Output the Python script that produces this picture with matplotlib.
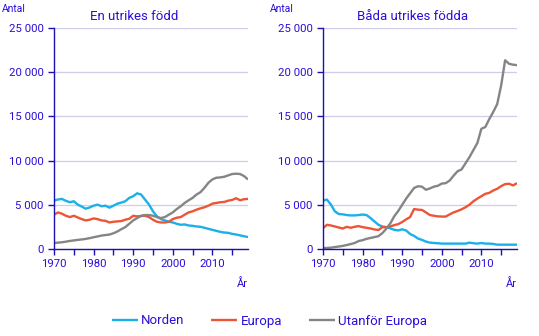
import numpy as np
import matplotlib
matplotlib.use("Agg")
import matplotlib.pyplot as plt
from matplotlib.ticker import FuncFormatter, MultipleLocator

plt.rcParams['font.family'] = ['Roboto', 'DejaVu Sans']

years = list(range(1970, 2020))

# En utrikes född
en_norden = [5475, 5600, 5670, 5450, 5290, 5400, 5020, 4800, 4560, 4700,
             4900, 5020, 4830, 4900, 4680, 4900, 5130, 5250, 5400, 5780,
             5970, 6300, 6160, 5590, 5020, 4260, 3690, 3380, 3230, 3080,
             3000, 2850, 2740, 2780, 2660, 2620, 2550, 2510, 2400, 2280,
             2170, 2050, 1940, 1860, 1830, 1710, 1640, 1540, 1440, 1350]
en_europa = [3880, 4140, 3990, 3760, 3610, 3760, 3570, 3380, 3230, 3310,
             3460, 3380, 3230, 3190, 3000, 3080, 3120, 3160, 3310, 3420,
             3760, 3690, 3730, 3760, 3610, 3310, 3080, 3000, 3000, 3080,
             3380, 3540, 3610, 3880, 4140, 4260, 4450, 4600, 4720, 4900,
             5130, 5210, 5290, 5320, 5470, 5550, 5740, 5510, 5630, 5670]
en_utanfor = [680, 720, 760, 830, 910, 970, 1030, 1080, 1140, 1230,
              1330, 1420, 1520, 1580, 1630, 1780, 1980, 2240, 2470, 2850,
              3230, 3500, 3760, 3840, 3840, 3760, 3610, 3500, 3610, 3880,
              4140, 4520, 4830, 5210, 5510, 5780, 6160, 6430, 6920, 7490,
              7870, 8060, 8100, 8170, 8330, 8480, 8520, 8480, 8250, 7870]

# Båda utrikes födda
bada_norden = [5470, 5590, 5020, 4260, 3950, 3920, 3840, 3800, 3800, 3840,
               3900, 3840, 3500, 3120, 2740, 2550, 2470, 2340, 2170, 2100,
               2230, 2090, 1700, 1480, 1180, 1030, 840, 720, 680, 650,
               610, 610, 610, 610, 610, 610, 610, 720, 650, 610,
               680, 610, 610, 570, 490, 490, 490, 490, 490, 490]
bada_europa = [2360, 2740, 2660, 2550, 2430, 2320, 2510, 2400, 2510, 2590,
               2470, 2400, 2320, 2210, 2150, 2470, 2460, 2550, 2700, 2810,
               3050, 3350, 3610, 4520, 4450, 4420, 4140, 3840, 3760, 3690,
               3670, 3670, 3920, 4140, 4300, 4490, 4720, 5020, 5400, 5700,
               5970, 6240, 6350, 6620, 6810, 7110, 7340, 7380, 7190, 7450]
bada_utanfor = [110, 120, 150, 220, 280, 350, 450, 560, 680, 900,
                1000, 1150, 1250, 1350, 1450, 1800, 2300, 2900, 3700, 4300,
                5000, 5700, 6300, 6900, 7100, 7050, 6700, 6850, 7050, 7150,
                7400, 7450, 7750, 8300, 8800, 9000, 9700, 10400, 11200, 12000,
                13600, 13800, 14700, 15500, 16400, 18500, 21350, 20950, 20850, 20800]

series = ["Norden", "Europa", "Utanför Europa"]
colors = ["#1AB0E8", "#EC5535", "#858585"]
txt = "#2A0FD8"
spine = "#1C10B0"

def fmt(v, pos):
    return f"{int(v):,}".replace(",", " ")

fig = plt.figure(figsize=(5.39, 3.36), dpi=100)
W, H = 539, 336

panels = [
    (54, "En utrikes född", [en_norden, en_europa, en_utanfor], 2, 134),
    (323, "Båda utrikes födda", [bada_norden, bada_europa, bada_utanfor], 270, 413),
]

for x0, title, data, antal_x, title_x in panels:
    ax = fig.add_axes([x0 / W, (336 - 249) / H, 194 / W, 221 / H])
    for vals, c, name in zip(data, colors, series):
        ax.plot(years, vals, color=c, lw=1.7, label=name, solid_capstyle="butt")
    ax.set_xlim(1970, 2019)
    ax.set_ylim(0, 25000)
    ax.yaxis.set_major_locator(MultipleLocator(5000))
    ax.xaxis.set_major_locator(MultipleLocator(10))
    ax.xaxis.set_minor_locator(MultipleLocator(5))
    ax.yaxis.set_major_formatter(FuncFormatter(fmt))
    ax.grid(axis="y", color="#CFCDEB", lw=0.9)
    ax.set_axisbelow(True)
    for s in ["top", "right"]:
        ax.spines[s].set_visible(False)
    for s in ["left", "bottom"]:
        ax.spines[s].set_color(spine)
        ax.spines[s].set_linewidth(1.0)
    ax.tick_params(axis="both", colors=spine, labelcolor=txt, labelsize=8.2, length=4, width=1)
    ax.tick_params(axis="x", which="minor", colors=spine, length=4, width=1)
    ax.tick_params(axis="x", pad=3)
    fig.text(title_x / W, 1 - 16 / H, title, color=txt, fontsize=9.5, va="center", ha="center")
    fig.text(antal_x / W, 1 - 9 / H, "Antal", color=txt, fontsize=7.5, va="center", ha="left")
    fig.text((x0 + 194) / W, 1 - 284 / H, "År", color=txt, fontsize=8, va="center", ha="right")

handles = ax.get_lines()
fig.legend(handles, series, loc="center", bbox_to_anchor=(0.5, 1 - 321 / H),
           ncol=3, frameon=False, fontsize=9.5, labelcolor=txt,
           handlelength=2.0, handletextpad=0.25, columnspacing=2.0)

fig.savefig("out.png", dpi=100)
